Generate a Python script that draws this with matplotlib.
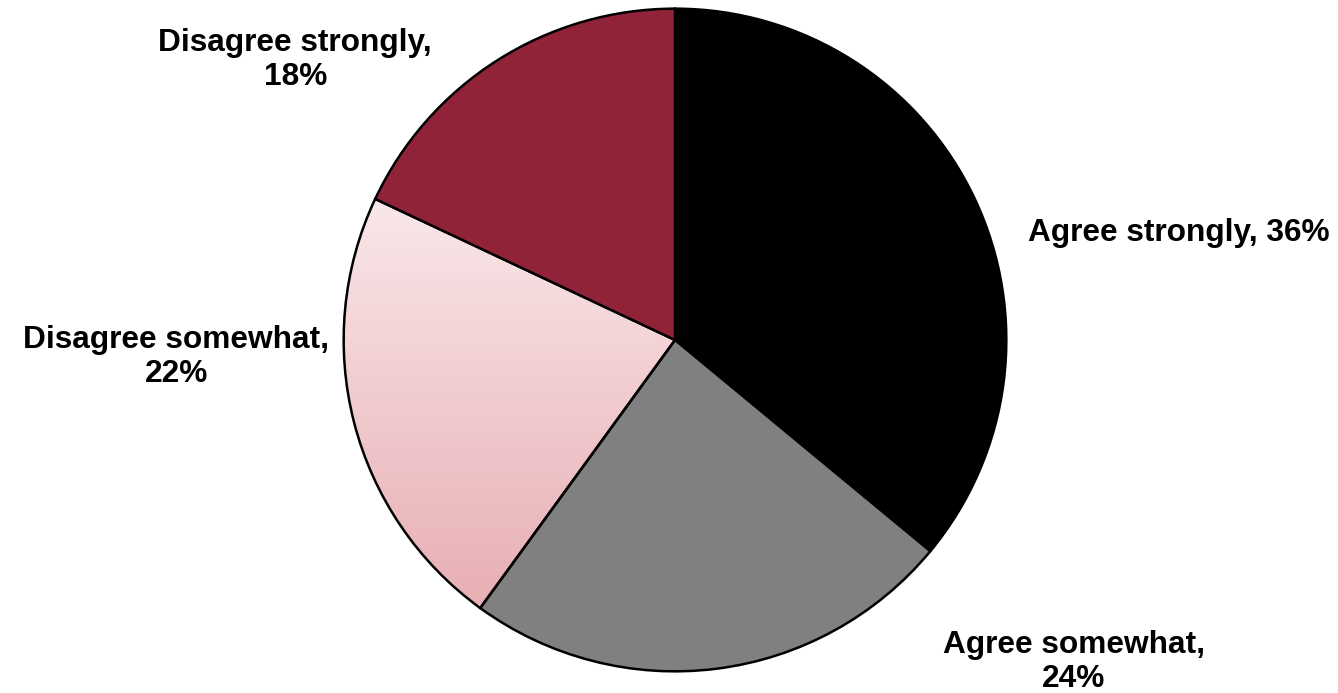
import matplotlib
matplotlib.use("Agg")
import matplotlib.pyplot as plt
import numpy as np
from matplotlib.colors import LinearSegmentedColormap

# survey answers, clockwise from 12 o'clock
categories = ["Agree strongly", "Agree somewhat", "Disagree somewhat", "Disagree strongly"]
shares = [36, 24, 22, 18]
slice_colors = ["#000000", "#808080", "#f0cdd1", "#912339"]
label_texts = ["Agree strongly, 36%", "Agree somewhat,\n24%", "Disagree somewhat,\n22%", "Disagree strongly,\n18%"]
# label anchor (centre x, last-line baseline) in units of the pie radius
label_pos = [(1.521, 0.300), (1.203, -1.046), (-1.505, -0.126), (-1.146, 0.769)]

plt.rcParams['font.family'] = ['Liberation Sans', 'DejaVu Sans']

fig = plt.figure(figsize=(13.38, 6.93), dpi=100)
r_px = 333
cx, cy = 675, 340
ax = fig.add_axes([(cx - r_px) / 1338, (693 - cy - r_px) / 693, 2 * r_px / 1338, 2 * r_px / 693])

wedges, _ = ax.pie(shares, colors=slice_colors, startangle=90, counterclock=False,
                   radius=1.0, wedgeprops=dict(edgecolor="black", linewidth=1.8))

# pink slice gets a light-to-darker vertical gradient
pink = wedges[2]
pink.set_facecolor("none")
cmap = LinearSegmentedColormap.from_list("pinkgrad", ["#f9e7e9", "#e8afb4"])
grad = np.linspace(0, 1, 256).reshape(-1, 1)
img = ax.imshow(grad, cmap=cmap, extent=[-1.0, 0.0, -0.8, 0.42], origin="upper",
                aspect="auto", zorder=pink.get_zorder() - 0.1)
img.set_clip_path(pink)

for txt, (lx, ly) in zip(label_texts, label_pos):
    ax.text(lx, ly, txt, ha="center", va="baseline", fontsize=22.8, fontweight="bold",
            linespacing=1.17, clip_on=False)

ax.set_xlim(-1.005, 1.005)
ax.set_ylim(-1.005, 1.005)
ax.set_aspect("equal")
ax.axis("off")

fig.savefig("out.png", dpi=100)
